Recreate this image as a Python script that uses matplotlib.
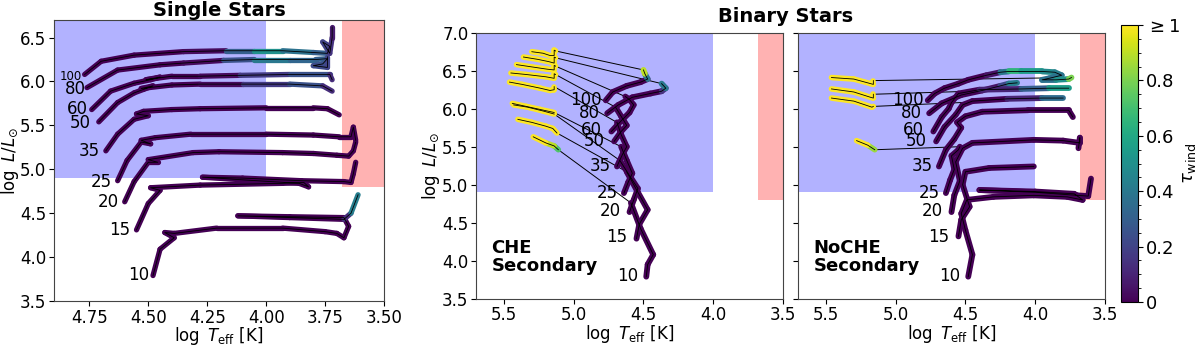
import numpy as np
import matplotlib.pyplot as plt
from matplotlib.collections import LineCollection
from matplotlib.colors import Normalize
from matplotlib.cm import ScalarMappable

# ---------------- data (log Teff, log L, tau_wind) ----------------
masses = [100, 80, 60, 50, 35, 25, 20, 15, 10]

# single stars
single_T = {
    100: [4.77, 4.70, 4.56, 4.35, 4.17, 4.05, 3.93, 3.80, 3.74, 3.73, 3.76, 3.73, 3.72, 3.72],
    80: [4.76, 4.63, 4.45, 4.35, 4.18, 4.05, 3.90, 3.79, 3.74, 3.76, 3.80, 3.74, 3.74],
    60: [4.74, 4.66, 4.56, 4.49, 4.45, 4.51, 4.40, 4.28, 4.11, 3.90, 3.73, 3.72],
    50: [4.71, 4.63, 4.56, 4.52, 4.48, 4.53, 4.40, 4.28, 4.10, 3.90, 3.76, 3.72],
    35: [4.68, 4.63, 4.56, 4.50, 4.55, 4.52, 4.40, 4.28, 4.00, 3.80, 3.74, 3.69],
    25: [4.63, 4.59, 4.53, 4.49, 4.53, 4.47, 4.32, 4.00, 3.80, 3.69, 3.64, 3.63, 3.62],
    20: [4.60, 4.56, 4.50, 4.46, 4.50, 4.31, 4.20, 3.93, 3.80, 3.70, 3.65, 3.63, 3.62],
    15: [4.55, 4.50, 4.45, 4.49, 4.28, 3.93, 3.84, 3.82, 3.86, 4.10, 4.27, 4.10, 3.85, 3.67, 3.64, 3.63, 3.62],
    10: [4.48, 4.45, 4.39, 4.43, 4.39, 4.21, 3.93, 3.75, 3.70, 3.67, 3.65, 3.67, 3.90, 4.12, 3.90, 3.67, 3.64, 3.61],
}
single_L = {
    100: [6.08, 6.23, 6.30, 6.34, 6.35, 6.35, 6.35, 6.33, 6.32, 6.40, 6.45, 6.32, 6.50, 6.62],
    80: [5.93, 6.13, 6.19, 6.21, 6.24, 6.25, 6.25, 6.25, 6.26, 6.20, 6.18, 6.16, 6.28],
    60: [5.68, 5.89, 5.98, 6.02, 6.05, 6.02, 6.06, 6.06, 6.07, 6.08, 6.08, 6.02],
    50: [5.54, 5.76, 5.87, 5.91, 5.95, 5.92, 5.96, 5.97, 5.97, 5.97, 5.95, 5.89],
    35: [5.21, 5.40, 5.57, 5.61, 5.63, 5.66, 5.68, 5.69, 5.70, 5.70, 5.69, 5.62],
    25: [4.87, 5.10, 5.31, 5.29, 5.33, 5.36, 5.40, 5.40, 5.39, 5.37, 5.37, 5.48, 5.33],
    20: [4.63, 4.86, 5.08, 5.08, 5.11, 5.19, 5.20, 5.19, 5.18, 5.16, 5.15, 5.21, 5.31],
    15: [4.31, 4.61, 4.76, 4.79, 4.82, 4.84, 4.85, 4.80, 4.84, 4.88, 4.91, 4.90, 4.87, 4.86, 4.85, 4.95, 5.08],
    10: [3.79, 4.09, 4.22, 4.28, 4.27, 4.33, 4.33, 4.29, 4.27, 4.22, 4.35, 4.45, 4.46, 4.47, 4.45, 4.43, 4.50, 4.71],
}
single_tau = {
    100: [0, 0, 0, 0, 0.05, 0.55, 0.45, 0.3, 0.3, 0.2, 0.2, 0.2, 0.1, 0.05],
    80: [0, 0, 0, 0, 0.05, 0.45, 0.35, 0.3, 0.3, 0.25, 0.25, 0.2, 0.2],
    60: [0, 0, 0, 0, 0, 0, 0, 0, 0.05, 0.3, 0.2, 0.05],
    50: [0, 0, 0, 0, 0, 0, 0, 0, 0.05, 0.3, 0.2, 0.05],
    10: [0, 0, 0, 0, 0, 0, 0, 0, 0, 0, 0, 0, 0, 0, 0, 0, 0.25, 0.6],
}

# binary stars, CHE secondary: main sequence part + hot (yellow) part
che_T = {
    100: [4.77, 4.72, 4.62, 4.52, 4.47, 4.49, 4.50],
    80: [4.76, 4.68, 4.58, 4.45, 4.37, 4.34, 4.37],
    60: [4.73, 4.66, 4.60, 4.57, 4.60, 4.63],
    50: [4.71, 4.66, 4.62, 4.66, 4.70],
    35: [4.69, 4.65, 4.62, 4.66, 4.69],
    25: [4.64, 4.61, 4.58, 4.62, 4.66],
    20: [4.60, 4.57, 4.54, 4.60, 4.67],
    15: [4.55, 4.53, 4.47, 4.54, 4.62],
    10: [4.48, 4.47, 4.43, 4.52, 4.59],
}
che_L = {
    100: [6.11, 6.22, 6.30, 6.35, 6.39, 6.46, 6.51],
    80: [5.94, 6.05, 6.15, 6.20, 6.23, 6.27, 6.33],
    60: [5.70, 5.84, 5.95, 6.05, 6.12, 6.16],
    50: [5.57, 5.70, 5.78, 5.90, 6.02],
    35: [5.24, 5.40, 5.50, 5.66, 5.82],
    25: [4.89, 5.03, 5.15, 5.32, 5.50],
    20: [4.64, 4.80, 4.95, 5.12, 5.32],
    15: [4.29, 4.48, 4.67, 4.90, 5.17],
    10: [3.79, 3.95, 4.08, 4.42, 4.76],
}
che_tau = {
    100: [0, 0, 0, 0, 0, 0.8, 1],
    80: [0, 0, 0, 0, 0, 0.3, 0.5],
}
che_hot_T = {
    100: [5.13, 5.14, 5.14, 5.17, 5.22, 5.30],
    80: [5.13, 5.14, 5.14, 5.18, 5.26, 5.36],
    60: [5.13, 5.14, 5.14, 5.19, 5.30, 5.41],
    50: [5.13, 5.14, 5.14, 5.20, 5.34, 5.45],
    35: [5.14, 5.14, 5.17, 5.24, 5.37, 5.46],
    25: [5.14, 5.24, 5.34, 5.44],
    20: [5.14, 5.22, 5.33, 5.43],
    15: [5.12, 5.15, 5.20, 5.30, 5.40],
    10: [5.11, 5.14, 5.20, 5.29],
}
che_hot_L = {
    100: [6.76, 6.77, 6.70, 6.70, 6.73, 6.75],
    80: [6.67, 6.68, 6.60, 6.62, 6.65, 6.68],
    60: [6.56, 6.57, 6.51, 6.52, 6.55, 6.58],
    50: [6.45, 6.46, 6.40, 6.42, 6.45, 6.47],
    35: [6.29, 6.25, 6.24, 6.27, 6.32, 6.35],
    25: [5.95, 5.99, 6.03, 6.07],
    20: [5.93, 5.97, 6.02, 6.05],
    15: [5.68, 5.74, 5.77, 5.82, 5.86],
    10: [5.46, 5.51, 5.55, 5.63],
}
che_hot_tau = {
    10: [0.65, 0.8, 1, 1],
}

# binary stars, NoCHE secondary
noche_T = {
    100: [4.77, 4.72, 4.65, 4.55, 4.48, 4.35, 4.25, 4.19, 4.10, 3.95, 3.86, 3.81, 3.90, 3.95, 3.85, 3.76, 3.74],
    80: [4.76, 4.67, 4.53, 4.38, 4.25, 4.19, 4.13],
    60: [4.73, 4.67, 4.62, 4.60, 4.55, 4.40, 4.10, 3.90, 3.76],
    50: [4.71, 4.65, 4.57, 4.52, 4.45, 4.20, 3.95, 3.80],
    35: [4.69, 4.64, 4.58, 4.53, 4.56, 4.50, 4.38, 4.05, 3.76, 3.73],
    25: [4.64, 4.61, 4.58, 4.60, 4.55, 4.54],
    20: [4.60, 4.58, 4.54, 4.57, 4.52, 4.45, 4.01, 3.80, 3.68, 3.68, 3.69],
    15: [4.55, 4.53, 4.47, 4.52, 4.50, 4.33, 4.01],
    10: [4.48, 4.45, 4.50, 4.53, 4.49, 4.30, 4.01, 3.77, 3.66, 3.72, 4.00, 4.40, 4.00, 3.70, 3.62, 3.60],
}
noche_L = {
    100: [6.11, 6.20, 6.27, 6.33, 6.38, 6.44, 6.48, 6.49, 6.49, 6.49, 6.48, 6.44, 6.40, 6.38, 6.38, 6.39, 6.41],
    80: [5.94, 6.07, 6.18, 6.24, 6.30, 6.33, 6.34],
    60: [5.70, 5.89, 6.00, 6.08, 6.20, 6.25, 6.26, 6.27, 6.27],
    50: [5.57, 5.76, 5.92, 6.05, 6.10, 6.13, 6.14, 6.14],
    35: [5.24, 5.46, 5.60, 5.75, 5.82, 5.90, 5.96, 5.98, 5.98, 5.89],
    25: [4.89, 5.06, 5.20, 5.38, 5.46, 5.50],
    20: [4.64, 4.86, 5.05, 5.30, 5.48, 5.55, 5.59, 5.58, 5.55, 5.62, 5.48],
    15: [4.32, 4.54, 4.71, 5.00, 5.17, 5.22, 5.24],
    10: [3.79, 4.08, 4.40, 4.62, 4.80, 4.84, 4.86, 4.84, 4.80, 4.88, 4.91, 4.93, 4.90, 4.86, 4.85, 5.08],
}
noche_tau = {
    100: [0, 0, 0, 0, 0, 0, 0.1, 0.7, 0.6, 0.5, 0.45, 0.4, 0.35, 0.35, 0.4, 0.6, 1],
    80: [0, 0, 0, 0, 0.1, 0.35, 0.5],
    60: [0, 0, 0, 0, 0, 0, 0.2, 0.4, 0.7],
    50: [0, 0, 0, 0, 0, 0, 0.2, 0.5],
}
noche_hot_T = {
    100: [5.16, 5.16, 5.18, 5.30, 5.46],
    60: [5.16, 5.16, 5.18, 5.30, 5.46],
    50: [5.16, 5.17, 5.30, 5.46],
    25: [5.15, 5.20, 5.28],
}
noche_hot_L = {
    100: [6.37, 6.32, 6.33, 6.39, 6.41],
    60: [6.19, 6.14, 6.15, 6.22, 6.26],
    50: [6.03, 6.02, 6.10, 6.14],
    25: [5.46, 5.52, 5.58],
}
noche_hot_tau = {
    25: [0.7, 1, 1],
}

# regions and panel limits
blue_T, blue_L = 4.0, 4.9
red_T, red_L = 3.68, 4.8
single_xlim, single_ylim = (4.9, 3.5), (3.5, 6.7)
bin_xlim, bin_ylim = (5.7, 3.5), (3.5, 7.0)

# label positions (log Teff, log L)
lab_single = {100: (4.83, 6.06), 80: (4.81, 5.92), 60: (4.80, 5.69), 50: (4.79, 5.53),
              35: (4.75, 5.21), 25: (4.70, 4.86), 20: (4.67, 4.63), 15: (4.62, 4.31), 10: (4.54, 3.80)}
lab_bin = {100: (4.91, 6.12), 80: (4.89, 5.95), 60: (4.87, 5.72), 50: (4.85, 5.57),
           35: (4.81, 5.25), 25: (4.76, 4.89), 20: (4.74, 4.66), 15: (4.69, 4.31), 10: (4.61, 3.80)}

# ---------------- plotting ----------------
cmap = plt.get_cmap('viridis')
norm = Normalize(0, 1)


def track(ax, T, L, tau=None, lw=3.8):
    T = np.asarray(T, float)
    L = np.asarray(L, float)
    if tau is None:
        tau = np.zeros(len(T))
    tau = np.asarray(tau, float)
    pts = np.column_stack([T, L]).reshape(-1, 1, 2)
    segs = np.concatenate([pts[:-1], pts[1:]], axis=1)
    cols = cmap(norm(0.5 * (tau[:-1] + tau[1:])))
    lc = LineCollection(segs, colors=cols, linewidths=lw, capstyle='round',
                        joinstyle='round', zorder=3)
    ax.add_collection(lc)
    ax.plot(T, L, 'k-', lw=0.6, zorder=4)


def regions(ax, xlim, ylim):
    ax.fill_between([xlim[0], blue_T], blue_L, ylim[1], color='blue', alpha=0.3, lw=0, zorder=0)
    ax.fill_between([red_T, xlim[1]], red_L, ylim[1], color='red', alpha=0.3, lw=0, zorder=0)
    ax.set_xlim(*xlim)
    ax.set_ylim(*ylim)


fs = 12
plt.rcParams['font.size'] = fs
plt.rcParams['xtick.major.pad'] = 2
plt.rcParams['ytick.major.pad'] = 2
fig = plt.figure(figsize=(12, 3.45), dpi=100)

ax1 = fig.add_axes([0.0450, 0.1275, 0.2750, 0.8145])
ax2 = fig.add_axes([0.3967, 0.1342, 0.2558, 0.7710])
ax3 = fig.add_axes([0.6650, 0.1342, 0.2558, 0.7710])
cax = fig.add_axes([0.9342, 0.1246, 0.0142, 0.8029])

# single stars
regions(ax1, single_xlim, single_ylim)
for m in masses:
    track(ax1, single_T[m], single_L[m], single_tau.get(m))
    ax1.text(*lab_single[m], str(m), ha='center', va='center',
             fontsize=8.5 if m == 100 else 12, zorder=5)
ax1.set_xticks([4.75, 4.5, 4.25, 4.0, 3.75, 3.5])
ax1.set_yticks([3.5, 4.0, 4.5, 5.0, 5.5, 6.0, 6.5])
ax1.set_title('Single Stars', fontweight='bold', fontsize=14, pad=1)

# binary panels
for ax, msT, msL, mstau, hT, hL, htau, name in [
        (ax2, che_T, che_L, che_tau, che_hot_T, che_hot_L, che_hot_tau, 'CHE\nSecondary'),
        (ax3, noche_T, noche_L, noche_tau, noche_hot_T, noche_hot_L, noche_hot_tau, 'NoCHE\nSecondary')]:
    regions(ax, bin_xlim, bin_ylim)
    for m in masses:
        track(ax, msT[m], msL[m], mstau.get(m), lw=4.2)
        if m in hT:
            # jump from the end of the main track to the hot part
            ax.plot([msT[m][-1], hT[m][0]], [msL[m][-1], hL[m][0]], 'k-', lw=0.7, zorder=2)
            track(ax, hT[m], hL[m], htau.get(m, np.ones(len(hT[m]))), lw=4.0)
        ax.text(*lab_bin[m], str(m), ha='center', va='center', fontsize=12, zorder=5)
    ax.text(0.05, 0.225, name, transform=ax.transAxes, ha='left', va='top',
            fontweight='bold', fontsize=13, linespacing=1.0)
    ax.set_xticks([5.5, 5.0, 4.5, 4.0, 3.5])
    ax.set_yticks([3.5, 4.0, 4.5, 5.0, 5.5, 6.0, 6.5, 7.0])
ax3.tick_params(labelleft=False)

for ax in (ax1, ax2, ax3):
    ax.set_xlabel(r'$\log\ T_{\rm eff}$ [K]', labelpad=-1)
    for s in ax.spines.values():
        s.set_color('#444444')
ax1.set_ylabel(r'$\log\ L/L_{\odot}$', labelpad=-1)
ax2.set_ylabel(r'$\log\ L/L_{\odot}$', labelpad=0)

fig.text(0.655, 0.951, 'Binary Stars', ha='center', va='center', fontweight='bold', fontsize=14)

sm = ScalarMappable(norm=norm, cmap=cmap)
cb = fig.colorbar(sm, cax=cax)
cb.set_ticks([0, 0.2, 0.4, 0.6, 0.8, 1.0])
cb.set_ticklabels(['0', '0.2', '0.4', '0.6', '0.8', r'$\geq 1$'])
cb.ax.tick_params(labelsize=13)
cb.ax.minorticks_on()
cb.set_label(r'$\tau_{\rm wind}$', fontsize=13, labelpad=0)

fig.savefig('out.png', dpi=100)
